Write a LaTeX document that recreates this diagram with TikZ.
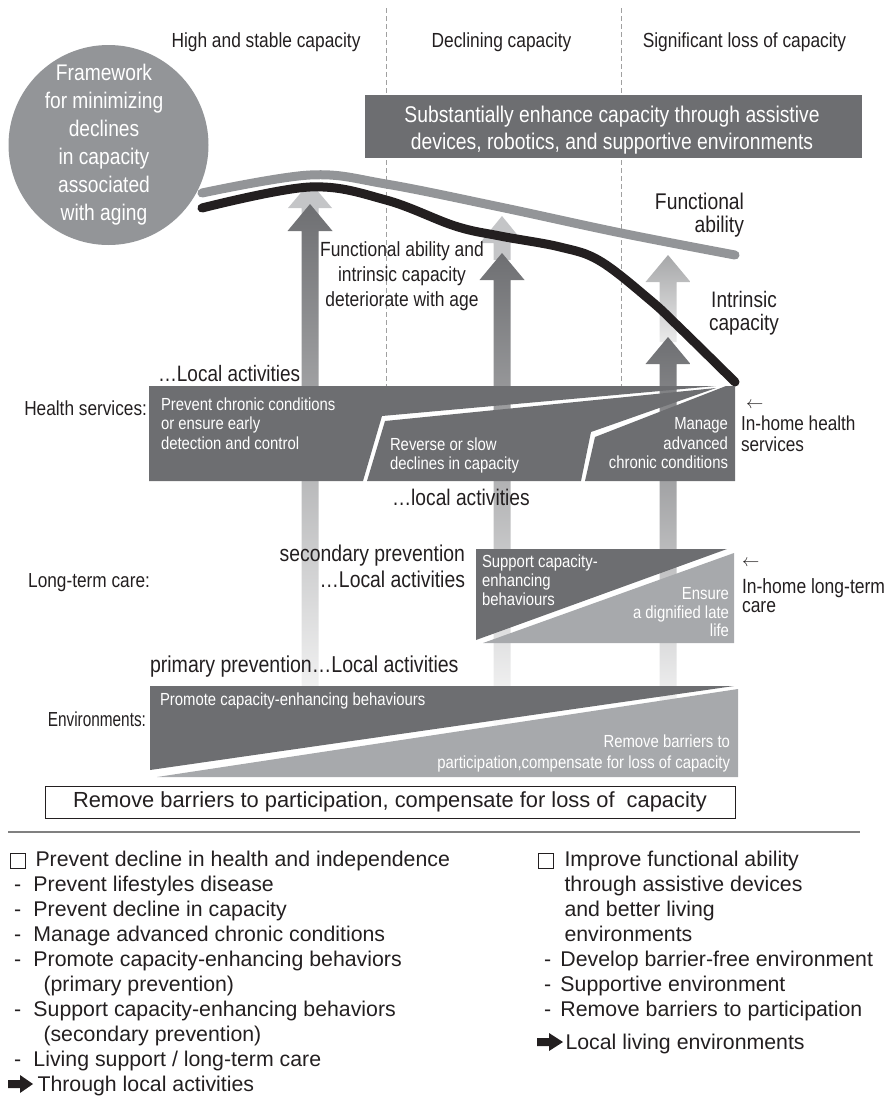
\documentclass[tikz,border=0pt]{standalone}
\usepackage{fontspec}
\usepackage{graphicx}
\setmainfont{Liberation Sans}
\newfontfamily\narrowfont{Liberation Sans}[FakeStretch=0.85]
\newcommand\fsz[2]{\fontsize{#1}{#2}\selectfont}
\definecolor{txt}{HTML}{231F20}
\definecolor{boxdark}{HTML}{6D6E71}
\definecolor{circ}{HTML}{939598}
\definecolor{fagray}{HTML}{939598}
\definecolor{boxlight}{HTML}{A7A9AC}
\definecolor{pale}{HTML}{C4C5C7}
\definecolor{arrdark}{HTML}{6E6F72}
\definecolor{dashcol}{HTML}{A0A0A0}
\definecolor{rulecol}{HTML}{808080}
\begin{document}
\begin{tikzpicture}[x=1pt,y=-1pt,
  every node/.style={inner sep=0pt, outer sep=0pt, text=txt},
  hdr/.style={font=\narrowfont\fsz{20.4}{24}, anchor=base},
  lbl/.style={font=\narrowfont\fsz{22.7}{25}},
  rowlbl/.style={font=\narrowfont\fsz{20.3}{24}, anchor=base east},
  boxtxt/.style={font=\narrowfont\fsz{17.5}{19.5}, text=white},
  larrow/.style={font=\fsz{18}{20}, anchor=base west},
  vline/.style={dashcol, line width=0.9, dash pattern=on 5pt off 3pt},
  curve/.style={line width=9, line cap=round},
  legend/.style={font=\fsz{21.3}{25}, align=left, anchor=north west},
  tick/.style={draw=txt, line width=0.9, minimum size=15, anchor=north west}
]
\useasboundingbox (0,0) rectangle (889,1103);

% column separators
\draw[vline] (386,8) -- (386,386);
\draw[vline] (621,8) -- (621,386);

% column headers
\node[hdr] (h1) at (266,47) {High and stable capacity};
\node[hdr] (h2) at (501.5,47) {Declining capacity};
\node[hdr] (h3) at (744.5,47) {Significant loss of capacity};

% framework circle
\node[circle, fill=circ, minimum size=200] (frame) at (108.5,145) {};
\node[font=\narrowfont\fsz{22.6}{28}, text=white, align=center, anchor=north] (frametxt) at (104,64.5)
  {Framework\\for minimizing\\declines\\in capacity\\associated\\with aging};

% top box
\fill[boxdark] (365,95) rectangle (862,158);
\node[font=\narrowfont\fsz{22.7}{26.7}, text=white, align=center, anchor=north] (enh) at (612,106.4)
  {Substantially enhance capacity through assistive\\devices, robotics, and supportive environments};

% arrows: light (functional ability) and dark (intrinsic capacity)
\fill[pale] (310,182) -- (332,208) -- (318.5,208) -- (318.5,220) -- (301.5,220) -- (301.5,208) -- (288,208) -- cycle;
\shade[top color=arrdark, bottom color=white] (310,204) -- (332.5,231) -- (318.5,231) -- (318.5,740) -- (301.5,740) -- (301.5,231) -- (287.5,231) -- cycle;
\fill[pale] (502,216) -- (524,243) -- (510.5,243) -- (510.5,260) -- (493.5,260) -- (493.5,243) -- (480,243) -- cycle;
\shade[top color=arrdark, bottom color=white] (502,253) -- (524.5,280) -- (510.5,280) -- (510.5,740) -- (493.5,740) -- (493.5,280) -- (479.5,280) -- cycle;
\shade[top color=pale!85!black, bottom color=white!92!black] (668,255) -- (690.5,282) -- (676.5,282) -- (676.5,342) -- (659.5,342) -- (659.5,282) -- (645.5,282) -- cycle;
\shade[top color=arrdark, bottom color=white] (668,337) -- (690.5,364) -- (676.5,364) -- (676.5,740) -- (659.5,740) -- (659.5,364) -- (645.5,364) -- cycle;

% curves
\draw[curve, fagray] plot[smooth, tension=0.6] coordinates {(202,193) (310,175) (386,184) (500,207) (621,233) (735,255)};
\draw[curve, txt] plot[smooth, tension=0.6] coordinates {(202,208) (310,187) (386,200) (455,226) (500,236) (560,247) (600,261) (650,300) (680,328) (735,382)};

\node[lbl, font=\narrowfont\fsz{20.5}{25}, align=center, anchor=north] (det) at (402,241.8)
  {Functional ability and\\intrinsic capacity\\deteriorate with age};
\node[lbl, align=right, anchor=north east, font=\narrowfont\fsz{22.7}{23.5}] (fa) at (744,192.7) {Functional\\ability};
\node[lbl, align=center, anchor=north, font=\narrowfont\fsz{22.4}{23}] (ic) at (744,291) {Intrinsic\\capacity};

% health services
\node[lbl, anchor=base west, font=\narrowfont\fsz{22.3}{25}] (la1) at (158,381.7) {…Local activities};
\node[rowlbl] (hs) at (147,415) {Health services:};
\fill[boxdark] (149,386) -- (716,386) -- (382,416) -- (363,481) -- (149,481) -- cycle;
\fill[boxdark] (716,388) -- (385,421) -- (367,481) -- (581,481) -- (591,432) -- cycle;
\fill[boxdark] (726,386) -- (735,386) -- (735,481) -- (585,481) -- (595,437) -- cycle;
\node[boxtxt, align=left, anchor=north west] (hs1) at (161,397.5) {Prevent chronic conditions\\or ensure early\\detection and control};
\node[boxtxt, align=left, anchor=north west, font=\narrowfont\fsz{17.5}{19}] (hs2) at (390,437.5) {Reverse or slow\\declines in capacity};
\node[boxtxt, align=right, anchor=north east] (hs3) at (728,417.5) {Manage\\advanced\\chronic conditions};
\node[larrow] (ah1) at (746,408.5) {$\leftarrow$};
\node[font=\narrowfont\fsz{20.2}{21}, align=left, anchor=north west] (ih1) at (741,415.5) {In-home health\\services};
\node[lbl, anchor=base west, font=\narrowfont\fsz{22.6}{25}] (la2) at (392,505) {…local activities};

% long-term care
\node[lbl, align=right, anchor=north east, font=\narrowfont\fsz{22.8}{25.3}] (sp) at (465,545.4) {secondary prevention\\…Local activities};
\node[rowlbl] (ltc) at (150,587) {Long-term care:};
\fill[boxdark] (476,549) -- (727,549) -- (476,640) -- cycle;
\fill[boxlight] (734,553) -- (734,643) -- (483,643) -- cycle;
\node[boxtxt, align=left, anchor=north west, font=\narrowfont\fsz{17.5}{19}] (lt1) at (482,554.5) {Support capacity-\\enhancing\\behaviours};
\node[boxtxt, align=right, anchor=north east, font=\narrowfont\fsz{17.5}{18.7}] (lt2) at (729,587.5) {Ensure\\a dignified late\\life};
\node[larrow] (ah2) at (742,566.5) {$\leftarrow$};
\node[font=\narrowfont\fsz{20.6}{19.5}, align=left, anchor=north west] (ih2) at (742,578.2) {In-home long-term\\care};

% environments
\node[lbl, anchor=base west, font=\narrowfont\fsz{23}{25}] (pp) at (150,672) {primary prevention…Local activities};
\node[rowlbl] (env) at (146,726) {\scalebox{0.89}[1]{Environments:}};
\fill[boxdark] (150,686) -- (734,686) -- (150,770) -- cycle;
\fill[boxlight] (738,689) -- (738,777) -- (157,777) -- cycle;
\node[boxtxt, anchor=base west] (en1) at (160,705) {Promote capacity-enhancing behaviours};
\node[boxtxt, align=right, anchor=north east, font=\narrowfont\fsz{17.5}{21}] (en2) at (730,734.5) {Remove barriers to\\participation,compensate for loss of capacity};

% bottom box
\node[draw=txt, line width=0.8, fill=white, minimum width=690, minimum height=32, font=\fsz{21.85}{24}] (rb) at (390,802)
  {Remove barriers to participation, compensate for loss of\ \ capacity};

\draw[rulecol, line width=1.5] (8,832) -- (860,832);

% legend left
\node[tick] (sq1) at (10,853) {};
\node[legend] (legL) at (10,850.8) {%
\hspace*{25.5pt}Prevent decline in health and independence\\
\makebox[23.5pt][l]{\hspace*{4pt}-}Prevent lifestyles disease\\
\makebox[23.5pt][l]{\hspace*{4pt}-}Prevent decline in capacity\\
\makebox[23.5pt][l]{\hspace*{4pt}-}Manage advanced chronic conditions\\
\makebox[23.5pt][l]{\hspace*{4pt}-}Promote capacity-enhancing behaviors\\
\hspace*{33.5pt}(primary prevention)\\
\makebox[23.5pt][l]{\hspace*{4pt}-}Support capacity-enhancing behaviors\\
\hspace*{33.5pt}(secondary prevention)\\
\makebox[23.5pt][l]{\hspace*{4pt}-}Living support / long-term care\\
\hspace*{27.5pt}Through local activities};
\fill[txt] (8,1080) -- (20,1080) -- (20,1075) -- (33,1084) -- (20,1093) -- (20,1088) -- (8,1088) -- cycle;

% legend right
\node[tick] (sq2) at (538,853) {};
\node[legend] (legR) at (538,850.8) {%
\hspace*{26.5pt}Improve functional ability\\
\hspace*{26.5pt}through assistive devices\\
\hspace*{26.5pt}and better living\\
\hspace*{26.5pt}environments\\
\makebox[22.5pt][l]{\hspace*{6pt}-}Develop barrier-free environment\\
\makebox[22.5pt][l]{\hspace*{6pt}-}Supportive environment\\
\makebox[22.5pt][l]{\hspace*{6pt}-}Remove barriers to participation};
\fill[txt] (537,1038) -- (549,1038) -- (549,1033) -- (563,1042) -- (549,1051) -- (549,1046) -- (537,1046) -- cycle;
\node[font=\fsz{21.3}{25}, anchor=base west] (lle) at (565.5,1049) {Local living environments};
\end{tikzpicture}
\end{document}
